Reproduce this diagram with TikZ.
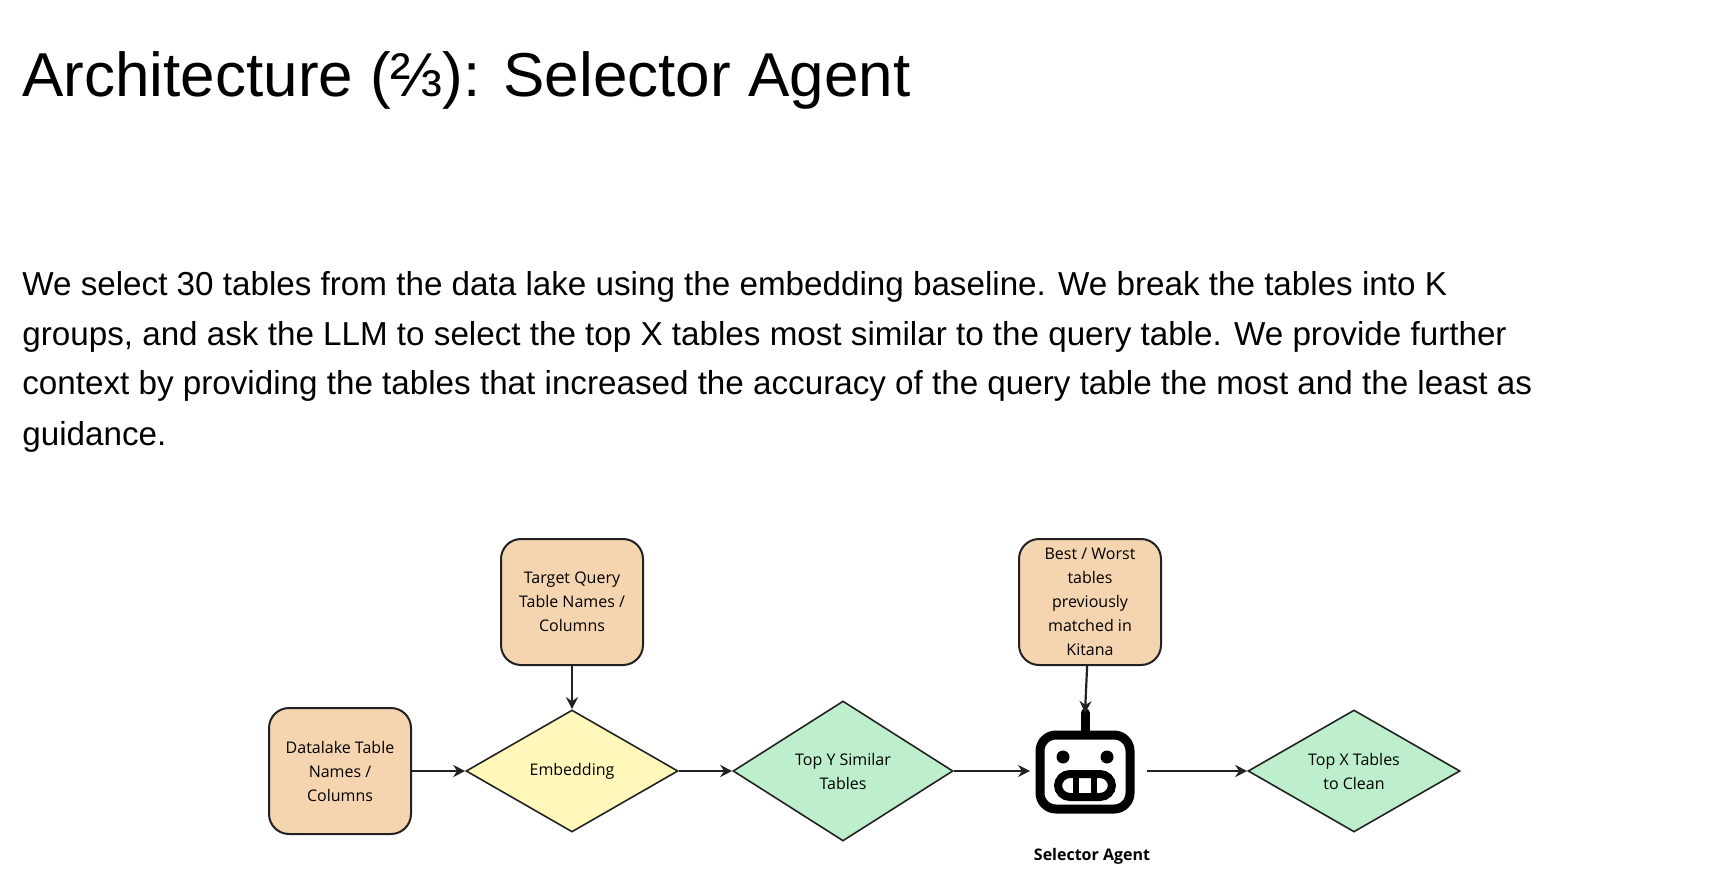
\documentclass[tikz,border=0pt]{standalone}
\usepackage{fontspec}
\setmainfont{Liberation Sans}
\newfontfamily\diagfont{Open Sans}
\usetikzlibrary{positioning,shapes.geometric,arrows.meta}
\definecolor{boxorange}{HTML}{F5D4B0}
\definecolor{boxyellow}{HTML}{FFF8BA}
\definecolor{boxgreen}{HTML}{BDEFCC}
\definecolor{ink}{HTML}{222222}

\begin{document}
\begin{tikzpicture}[
  x = 0.5pt,
  y = -0.5pt,
  title/.style = {
    anchor = base west,
    inner sep = 0pt,
    font = \fontsize{31}{36}\selectfont,
  },
  body/.style = {
    anchor = base west,
    inner sep = 0pt,
    font = \fontsize{16.6}{20}\selectfont,
  },
  input/.style = {
    draw = ink,
    line width = 1pt,
    rectangle,
    rounded corners = 10pt,
    fill = boxorange,
    minimum width = 71pt,
    minimum height = 63pt,
    align = center,
    font = \diagfont\fontsize{8}{12}\selectfont,
  },
  stage/.style = {
    draw = ink,
    line width = 0.8pt,
    diamond,
    aspect = 1.75,
    inner sep = 0pt,
    minimum width = 106pt,
    minimum height = 61pt,
    align = center,
    font = \diagfont\fontsize{8}{12}\selectfont,
  },
  link/.style = {
    draw = ink,
    line width = 1.1pt,
    -{Stealth[length=6pt,width=6pt]},
  },
]

  \useasboundingbox (0,0) rectangle (1722,892);

  \node[title] (head) at (22,97) {Architecture (⅔): Selector Agent};

  \node[body] (line1) at (22,296) {We select 30 tables from the data lake using the embedding baseline. We break the tables into K};
  \node[body] (line2) at (22,346) {groups, and ask the LLM to select the top X tables most similar to the query table. We provide further};
  \node[body] (line3) at (22,395) {context by providing the tables that increased the accuracy of the query table the most and the least as};
  \node[body] (line4) at (22,445) {guidance.};

  \node[input] (datalake) at (340,771) {Datalake Table\\Names /\\Columns};
  \node[input] (target) at (572,602) {Target Query\\Table Names /\\Columns};
  \node[input] (best) at (1090,602) {Best / Worst\\tables\\previously\\matched in\\Kitana};

  \node[stage, fill=boxyellow] (embed) at (572,771) {Embedding};
  \node[stage, fill=boxgreen, minimum width=110pt, minimum height=70pt] (topy) at (843,771) {Top Y Similar\\Tables};
  \node[stage, fill=boxgreen] (topx) at (1354,771) {Top X Tables\\to Clean};

  % robot icon
  \node[draw=black, line width=4.5pt, rounded corners=8pt, minimum width=45pt, minimum height=37pt] (robot) at (1085,772) {};
  \coordinate (antenna) at (1085,713);
  \draw[line width=4.5pt, line cap=round] (antenna) -- (robot.north);
  \fill (1063,757) circle (6.5);
  \fill (1107,757) circle (6.5);
  \draw[line width=4pt, rounded corners=6pt] (1058,774) rectangle (1112,797);
  \draw[line width=3pt] (1076,774) -- (1076,797) (1094,774) -- (1094,797);
  \node[font=\diagfont\bfseries\fontsize{8}{10}\selectfont] (robotlabel) at (1092,856) {Selector Agent};
  \coordinate (robotin) at (1030,771);
  \coordinate (robotout) at (1147,771);

  \path[link] (datalake) -- (embed);
  \path[link] (target) -- (embed);
  \path[link] (embed) -- (topy);
  \path[link] (topy) -- (robotin);
  \path[link] (robotout) -- (topx);
  \path[link] (best) -- (antenna);

\end{tikzpicture}
\end{document}
